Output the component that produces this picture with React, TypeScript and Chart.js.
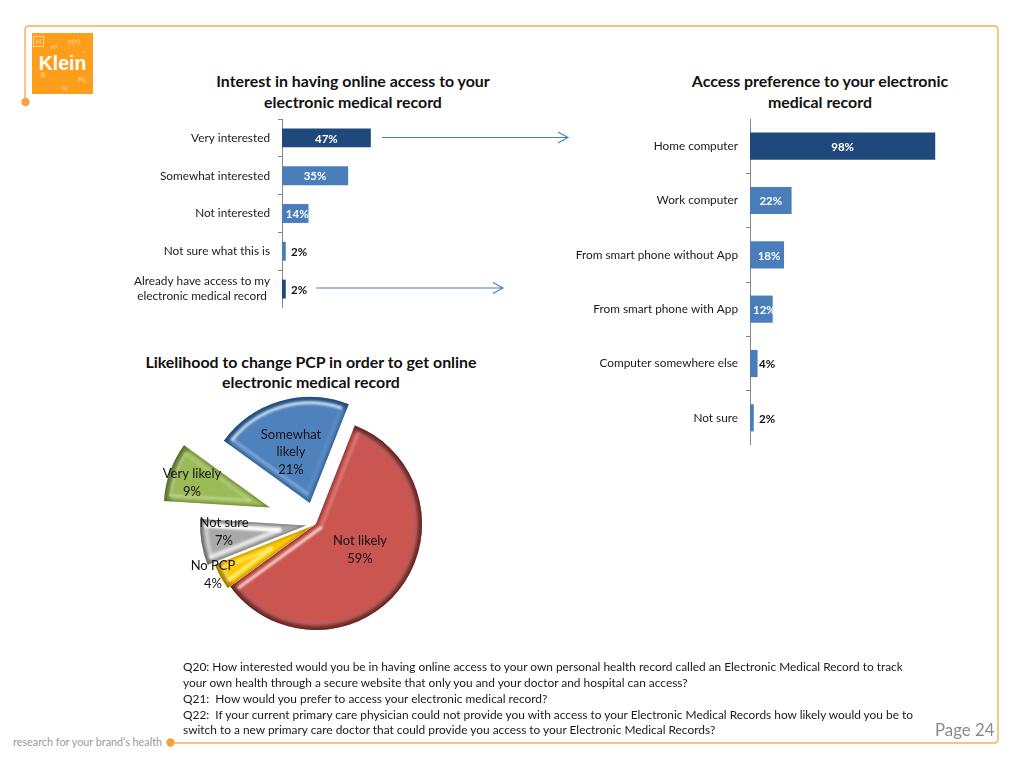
import React, { useEffect, useRef } from "react";
import { Chart, registerables } from "chart.js";

Chart.register(...registerables);

const FONT = "Lato, 'Open Sans', sans-serif";

// ---- data ----
const interestCategories: (string | string[])[] = [
  "Very interested",
  "Somewhat interested",
  "Not interested",
  "Not sure what this is",
  ["Already have access to my", "electronic medical record\u00A0"],
];
const interestValues = [47, 35, 14, 2, 2];

const accessCategories = [
  "Home computer",
  "Work computer",
  "From smart phone without App",
  "From smart phone with App",
  "Computer somewhere else",
  "Not sure",
];
const accessValues = [98, 22, 18, 12, 4, 2];

const pieCategories: string[][] = [
  ["Not likely"],
  ["No PCP"],
  ["Not sure"],
  ["Very likely"],
  ["Somewhat", "likely"],
];
const pieValues = [59, 4, 7, 9, 21];

const titleInterest = ["Interest in having online access to your", "electronic medical record"];
const titleAccess = ["Access preference to your electronic", "medical record"];
const titleLikelihood = ["Likelihood to change PCP in order to get online", "electronic medical record"];

const footnotes = [
  "Q20: How interested would you be in having online access to your own personal health record called an Electronic Medical Record to track",
  "your own health through a secure website that only you and your doctor and hospital can access?",
  "Q21:  How would you prefer to access your electronic medical record?",
  "Q22:  If your current primary care physician could not provide you with access to your Electronic Medical Records how likely would you be to",
  "switch to a new primary care doctor that could provide you access to your Electronic Medical Records?",
];

// ---- styling ----
const DARK = "#1F497D";
const MID = "#4A7EBB";
const interestColors = [DARK, MID, MID, MID, DARK];
const accessColors = [DARK, MID, MID, MID, MID, MID];
const interestNudge = [0, 0, 2, 0, 0];
const accessNudge = [0, 0, 2, 3, 0, 0];

const pieFill = ["#CB5551", "#FFC800", "#A9A9A9", "#9BBB59", "#4F81BD"];
const pieRim = ["#5E2422", "#9A7800", "#6E6E6E", "#566C2C", "#1F4874"];
const pieGlow = ["#F7D5D0", "#FFF59A", "#FFFFFF", "#DCE9C0", "#D8EAFC"];
// opacity of the light bevel along: arc, first cut edge, second cut edge
const pieGlowAlpha = [
  [0.18, 0.3, 1],
  [0.6, 0.9, 0.6],
  [0.5, 0.7, 1],
  [0.6, 0.55, 0.35],
  [0.95, 0.35, 0.1],
];
const pieGlowWidth = [3, 3, 4.5, 2.5, 3];
const pieExplode = [0, 3, 10, 49, 22];
const pieLabelShift = [
  [44, 26],
  [-103, 51],
  [-92, 8],
  [-124, -41],
  [-25, -72],
];

const barLabels = {
  id: "barLabels",
  afterDatasetsDraw(chart: any, _a: any, opts: any) {
    const ctx = chart.ctx;
    const meta = chart.getDatasetMeta(0);
    const values = chart.data.datasets[0].data;
    ctx.save();
    ctx.font = `bold ${opts.size}px ${FONT}`;
    ctx.textBaseline = "middle";
    meta.data.forEach((bar: any, i: number) => {
      const v = values[i];
      const text = `${v}%`;
      if (v >= 10) {
        ctx.fillStyle = "#FFFFFF";
        ctx.textAlign = "center";
        ctx.fillText(text, (bar.x + bar.base) / 2 + (opts.nudge[i] || 0), bar.y + 1);
      } else {
        ctx.fillStyle = "#111111";
        ctx.textAlign = "left";
        ctx.fillText(text, chart.chartArea.left + opts.outside, bar.y + 1);
      }
    });
    ctx.restore();
  },
};

function slicePath(ctx: any, x: number, y: number, r: number, s: number, e: number) {
  ctx.beginPath();
  ctx.moveTo(x, y);
  ctx.arc(x, y, r, s, e);
  ctx.closePath();
}

const bevelPie = {
  id: "bevelPie",
  beforeDatasetDraw(chart: any) {
    const ctx = chart.ctx;
    const meta = chart.getDatasetMeta(0);
    meta.data.forEach((arc: any, i: number) => {
      const { x, y, startAngle: s, endAngle: e, outerRadius: r } = arc;
      const mid = (s + e) / 2;
      ctx.save();
      ctx.translate(Math.cos(mid) * pieExplode[i], Math.sin(mid) * pieExplode[i]);
      arc.draw(ctx);

      ctx.save();
      slicePath(ctx, x, y, r, s, e);
      ctx.clip();
      // dark rim along the arc
      const g = ctx.createRadialGradient(x, y, r - 9, x, y, r);
      g.addColorStop(0, pieRim[i] + "00");
      g.addColorStop(1, pieRim[i]);
      ctx.fillStyle = g;
      ctx.beginPath();
      ctx.arc(x, y, r + 1, 0, Math.PI * 2);
      ctx.fill();
      // soft dark shade on the cut edges
      ctx.filter = "blur(1.2px)";
      ctx.strokeStyle = pieRim[i] + "99";
      ctx.lineWidth = 3;
      ctx.beginPath();
      ctx.moveTo(x + Math.cos(s) * r, y + Math.sin(s) * r);
      ctx.lineTo(x, y);
      ctx.lineTo(x + Math.cos(e) * r, y + Math.sin(e) * r);
      ctx.stroke();
      // light inner bevel, softly blurred
      const d = 6;
      const half = (e - s) / 2;
      const t = d / Math.abs(Math.sin(half));
      const delta = d / (r - d);
      const ax = x + Math.cos(mid) * t;
      const ay = y + Math.sin(mid) * t;
      const a0 = s + delta;
      const a1 = e - delta;
      ctx.strokeStyle = pieGlow[i];
      ctx.lineWidth = pieGlowWidth[i];
      ctx.filter = "blur(0.8px)";
      ctx.lineCap = "round";
      ctx.globalAlpha = pieGlowAlpha[i][0];
      ctx.beginPath();
      ctx.arc(x, y, r - d, a0, a1);
      ctx.stroke();
      ctx.globalAlpha = pieGlowAlpha[i][1];
      ctx.beginPath();
      ctx.moveTo(ax, ay);
      ctx.lineTo(x + Math.cos(a0) * (r - d), y + Math.sin(a0) * (r - d));
      ctx.stroke();
      ctx.globalAlpha = pieGlowAlpha[i][2];
      ctx.beginPath();
      ctx.moveTo(ax, ay);
      ctx.lineTo(x + Math.cos(a1) * (r - d), y + Math.sin(a1) * (r - d));
      ctx.stroke();
      ctx.restore();

      ctx.restore();
    });
    return false;
  },
};

const pieLabels = {
  id: "pieLabels",
  afterDraw(chart: any) {
    const ctx = chart.ctx;
    const meta = chart.getDatasetMeta(0);
    const values = chart.data.datasets[0].data;
    const labels = chart.data.labels;
    ctx.save();
    ctx.font = `13px ${FONT}`;
    ctx.fillStyle = "#151515";
    ctx.textAlign = "center";
    ctx.textBaseline = "middle";
    meta.data.forEach((arc: any, i: number) => {
      const lines = [...labels[i], `${values[i]}%`];
      const lh = 17.5;
      const cx = arc.x + pieLabelShift[i][0];
      const cy = arc.y + pieLabelShift[i][1];
      lines.forEach((l: string, k: number) => {
        ctx.fillText(l, cx, cy + (k - (lines.length - 1) / 2) * lh);
      });
    });
    ctx.restore();
  },
};

function barConfig(labels: any, values: number[], colors: string[], axisW: number, nudge: number[], outside: number) {
  return {
    type: "bar" as const,
    data: {
      labels,
      datasets: [
        {
          data: values,
          backgroundColor: colors,
          borderWidth: 0,
          barPercentage: 0.5,
          categoryPercentage: 1,
        },
      ],
    },
    plugins: [barLabels],
    options: {
      indexAxis: "y" as const,
      animation: false as const,
      responsive: false,
      layout: { padding: 0 },
      plugins: {
        legend: { display: false },
        tooltip: { enabled: false },
        barLabels: { size: 11.5, nudge, outside },
      },
      scales: {
        x: { display: false, min: 0, max: 100 },
        y: {
          afterFit(scale: any) {
            scale.width = axisW;
            scale.paddingTop = 0;
            scale.paddingBottom = 0;
          },
          border: { color: "#868686", width: 1 },
          grid: { offset: true, drawOnChartArea: false, drawTicks: true, tickLength: 4, color: "#868686" },
          ticks: {
            autoSkip: false,
            padding: 8,
            color: "#1a1a1a",
            font: { family: FONT, size: 11.8, lineHeight: 1.27 },
          },
        },
      },
    },
  };
}

function useChart(makeConfig: () => any) {
  const ref = useRef<HTMLCanvasElement>(null);
  useEffect(() => {
    if (!ref.current) return;
    const c = new Chart(ref.current, makeConfig());
    return () => c.destroy();
  }, []);
  return ref;
}

const abs = (left: number, top: number): React.CSSProperties => ({ position: "absolute", left, top });

function TitleBlock({ lines, cx, ys }: { lines: string[]; cx: number; ys: number[] }) {
  return (
    <>
      {lines.map((l, i) => (
        <div
          key={i}
          style={{
            position: "absolute",
            left: cx - 250,
            width: 500,
            top: ys[i] - 11,
            height: 22,
            lineHeight: "22px",
            textAlign: "center",
            fontFamily: FONT,
            fontWeight: 700,
            fontSize: 15.9,
            color: "#111",
            whiteSpace: "nowrap",
          }}
        >
          {l}
        </div>
      ))}
    </>
  );
}

function Logo() {
  const small = (t: string, l: number, tp: number, s = 7): React.ReactElement => (
    <div
      key={t}
      style={{ position: "absolute", left: l, top: tp, fontFamily: "'Liberation Sans'", fontSize: s, color: "#FFD59B", lineHeight: 1 }}
    >
      {t}
    </div>
  );
  return (
    <div style={{ ...abs(32, 33), width: 61, height: 61, background: "#FF9E1B" }}>
      <div
        style={{
          position: "absolute",
          left: 1,
          top: 3,
          width: 9,
          height: 9,
          border: "1px solid #FFD59B",
          fontFamily: "'Liberation Sans'",
          fontSize: 8,
          lineHeight: "9px",
          textAlign: "center",
          color: "#FFD59B",
        }}
      >
        H
      </div>
      {small("x²", 19, 10, 8)}
      {small("p(x)", 36, 5)}
      {small("∼", 48, 15)}
      {small("®", 8, 39, 8)}
      {small("Rₓ", 46, 43, 8)}
      {small("%", 29, 52)}
      <div
        style={{
          position: "absolute",
          left: 0,
          width: 61,
          top: 19,
          textAlign: "center",
          fontFamily: "'Liberation Sans'",
          fontWeight: 700,
          fontSize: 19.5,
          lineHeight: "22px",
          color: "#FFFFFF",
        }}
      >
        Klein
      </div>
    </div>
  );
}

export default function App() {
  useEffect(() => {
    document.body.style.margin = "0";
  }, []);

  const leftRef = useChart(() => barConfig(interestCategories, interestValues, interestColors, 172, interestNudge, 9));
  const rightRef = useChart(() => barConfig(accessCategories, accessValues, accessColors, 190, accessNudge, 9));
  const pieRef = useChart(() => ({
    type: "pie",
    data: {
      labels: pieCategories,
      datasets: [{ data: pieValues, backgroundColor: pieFill, borderWidth: 0 }],
    },
    plugins: [bevelPie, pieLabels],
    options: {
      animation: false,
      responsive: false,
      rotation: 21.5,
      layout: { padding: 64 },
      plugins: { legend: { display: false }, tooltip: { enabled: false } },
    },
  }));

  const blue = "#4A7EBB";
  return (
    <div style={{ position: "absolute", left: 0, top: 0, width: 1024, height: 768, overflow: "hidden", background: "#fff" }}>
      <svg width={1024} height={768} style={abs(0, 0)}>
        <path
          d="M25 102 L25 30 Q25 26 29 26 L994 26 Q998 26 998 30 L998 739 Q998 743 994 743 L170 743"
          fill="none"
          stroke="#F9AE55"
          strokeWidth={1.4}
        />
        <circle cx={25.5} cy={102} r={4.2} fill="#F9A13A" />
        <circle cx={170.5} cy={742.5} r={4.2} fill="#F9A13A" />
        <g fill="none" stroke={blue} strokeWidth={1.1}>
          <path d="M382 137.5 L568 137.5 M558 132 L568 137.5 L558 143" />
          <path d="M316 288 L503 288 M493 282.5 L503 288 L493 293.5" />
        </g>
      </svg>
      <Logo />
      <TitleBlock lines={titleInterest} cx={353} ys={[81, 102]} />
      <TitleBlock lines={titleAccess} cx={820} ys={[81, 102]} />
      <TitleBlock lines={titleLikelihood} cx={311} ys={[362, 382]} />
      <canvas ref={leftRef} width={361} height={189} style={{ ...abs(110, 119), display: "block" }} />
      <canvas ref={rightRef} width={379} height={326} style={{ ...abs(560, 119), display: "block" }} />
      <canvas ref={pieRef} width={340} height={340} style={{ ...abs(146, 354), display: "block" }} />
      {footnotes.map((f, i) => (
        <div
          key={i}
          style={{
            position: "absolute",
            left: 183,
            top: [667, 683, 699, 715, 730][i] - 8,
            lineHeight: "16px",
            fontFamily: FONT,
            fontSize: 11.9,
            color: "#1a1a1a",
            whiteSpace: "pre",
          }}
        >
          {f}
        </div>
      ))}
      <div style={{ ...abs(935, 719), fontFamily: FONT, fontSize: 16.8, lineHeight: "22px", color: "#8a8a8a", whiteSpace: "nowrap" }}>Page 24</div>
      <div style={{ ...abs(13, 735), fontFamily: FONT, fontSize: 10.8, lineHeight: "14px", color: "#9a9a9a", whiteSpace: "nowrap" }}>
        research for your brand’s health
      </div>
    </div>
  );
}
